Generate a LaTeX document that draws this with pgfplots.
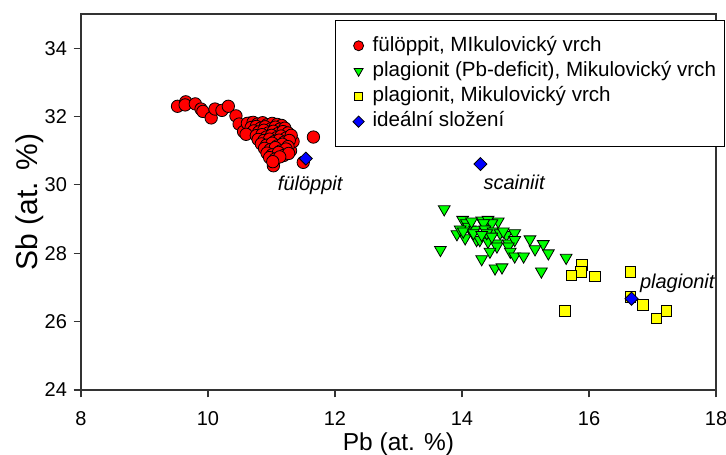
\documentclass[border=0pt]{standalone}
\usepackage{fontspec}
\setmainfont{Liberation Sans}
\usepackage{pgfplots}
\pgfplotsset{compat=1.18}
\definecolor{mred}{RGB}{255,0,0}
\definecolor{mgreen}{RGB}{0,255,0}
\definecolor{myellow}{RGB}{255,255,0}
\definecolor{mblue}{RGB}{0,0,255}
\newcommand{\lt}[1]{\makebox[352pt][l]{#1}}
\begin{document}
\begin{tikzpicture}
\begin{axis}[
  name=ax,
  scale only axis,
  width=635pt, height=376pt,
  xmin=8, xmax=18, ymin=24, ymax=35,
  xtick={8,10,...,18}, ytick={24,26,...,34},
  tick align=outside, tick pos=left,
  major tick length=7.5pt,
  axis line style={line width=1.3pt, black!80},
  every tick/.style={black!80, line width=1.1pt},
  /pgf/number format/assume math mode=true,
  ticklabel style={font=\fontsize{20}{24}\selectfont},
  xticklabel style={yshift=-11pt},
  yticklabel style={xshift=-3pt},
  xlabel={Pb (at. \%)}, ylabel={Sb (at. \%)},
  xlabel style={font=\fontsize{24.5}{28}\selectfont, at={(axis description cs:0.5,-0.145)}, anchor=center},
  ylabel style={font=\fontsize{30}{34}\selectfont, at={(axis description cs:-0.08,0.5)}, anchor=center},
  legend style={at={(0.4,0.984)}, anchor=north west, draw=black, line width=1.2pt,
    font=\fontsize{20.6}{24}\selectfont, row sep=0pt, inner xsep=0pt, inner ysep=12.5pt,
    nodes={inner sep=0pt, text height=15pt, text depth=4.5pt}},
  legend cell align=left,
  legend image code/.code={\path[draw=none, fill=none] (-23pt,-12.65pt) (14pt,12.65pt); \draw[#1, line width=0.8pt] plot coordinates {(0pt,0pt)};},
]
\addplot[only marks, mark=*, mark size=6.2pt, mark options={fill=mred, draw=black, line width=0.8pt}, legend image post style={mark size=5pt}] table {
9.52 32.30
9.65 32.43
9.64 32.34
9.80 32.37
9.89 32.22
9.92 32.15
10.05 31.96
10.11 32.22
10.22 32.18
10.32 32.30
10.44 32.02
10.49 31.78
10.56 31.56
10.66 31.81
11.66 31.40
11.50 30.66
11.03 30.56
11.30 31.00
11.34 31.27
10.62 31.80
10.71 31.83
10.78 31.78
10.86 31.82
10.93 31.76
11.01 31.80
11.09 31.77
11.16 31.74
10.68 31.68
10.76 31.71
10.83 31.66
10.90 31.70
10.99 31.64
11.06 31.69
11.13 31.63
11.21 31.66
10.72 31.58
10.80 31.55
10.88 31.60
10.95 31.52
11.03 31.57
11.10 31.50
11.18 31.56
11.26 31.52
10.60 31.48
10.76 31.44
10.85 31.47
10.92 31.40
11.00 31.45
11.08 31.38
11.15 31.43
11.23 31.37
11.31 31.45
10.79 31.33
10.88 31.30
10.97 31.34
11.05 31.27
11.12 31.31
11.20 31.25
11.28 31.30
10.84 31.20
10.92 31.16
11.01 31.22
11.09 31.14
11.17 31.19
11.26 31.12
10.89 31.07
10.98 31.03
11.06 31.09
11.14 30.99
11.23 31.05
10.93 30.93
11.01 30.88
11.11 30.95
11.19 30.86
11.27 30.92
10.97 30.80
11.06 30.76
11.13 30.82
11.02 30.68
};
\addlegendentry{\lt{fülöppit, MIkulovický vrch}}
\addplot[only marks, mark=triangle*, mark size=6.8pt, mark options={rotate=180, fill=mgreen, draw=black, line width=0.8pt}, legend image post style={mark size=5.2pt}] table {
13.72 29.29
13.66 28.10
14.01 28.98
13.92 28.56
14.05 28.44
14.13 28.70
14.31 28.96
14.41 28.98
14.57 28.93
14.47 28.88
14.34 28.88
14.07 28.88
14.10 28.78
14.20 28.69
14.36 28.70
14.49 28.64
14.60 28.59
14.70 28.54
14.83 28.59
14.23 28.39
14.28 28.39
14.41 28.34
14.55 28.29
14.73 28.29
14.83 28.39
15.07 28.41
15.28 28.27
15.15 28.12
15.36 28.00
14.73 28.20
14.76 28.05
14.55 28.20
14.44 28.05
14.83 27.91
14.97 27.91
14.31 27.83
14.52 27.56
14.63 27.59
15.25 27.47
15.64 27.87
13.97 28.70
14.02 28.64
14.18 28.59
14.39 28.59
14.47 28.49
14.65 28.64
14.31 28.54
14.15 28.93
};
\addlegendentry{\lt{plagionit (Pb-deficit), Mikulovický vrch}}
\addplot[only marks, mark=square*, mark size=5.3pt, mark options={fill=myellow, draw=black, line width=0.8pt}, legend image post style={mark size=4.3pt}] table {
15.89 27.66
15.87 27.45
15.72 27.35
16.09 27.32
16.65 27.45
15.62 26.31
16.65 26.73
16.85 26.49
17.06 26.10
17.22 26.32
};
\addlegendentry{\lt{plagionit, Mikulovický vrch}}
\addplot[only marks, mark=square*, mark size=4.6pt, mark options={rotate=45, fill=mblue, draw=black, line width=0.8pt}, legend image post style={mark size=4pt}] table {
11.54 30.77
14.29 30.61
16.67 26.67
};
\addlegendentry{\lt{ideální složení}}
\node[font=\fontsize{20}{24}\selectfont\itshape] at (axis cs:11.61,30.0) {fülöppit};
\node[font=\fontsize{20}{24}\selectfont\itshape] at (axis cs:14.82,30.07) {scainiit};
\node[font=\fontsize{20}{24}\selectfont\itshape] at (axis cs:17.39,27.13) {plagionit};
\end{axis}
\pgfresetboundingbox
\path[use as bounding box] ([xshift=-81pt,yshift=-65pt]ax.south west) rectangle ([xshift=10pt,yshift=14pt]ax.north east);
\end{tikzpicture}
\end{document}
